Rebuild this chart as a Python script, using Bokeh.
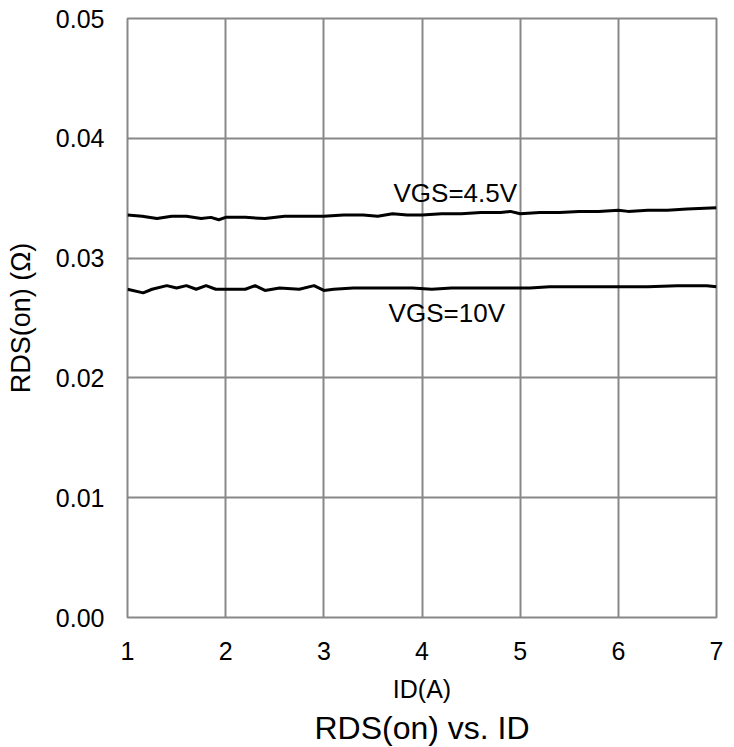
from bokeh.plotting import figure
from bokeh.models import Range1d, FixedTicker, Title, Label
from bokeh.embed import file_html
from bokeh.resources import INLINE

# ---- data ----
id_45 = [1.00, 1.15, 1.30, 1.45, 1.60, 1.75, 1.85, 1.93, 2.00, 2.20, 2.40, 2.60, 2.80, 3.00,
         3.20, 3.40, 3.55, 3.70, 3.85, 4.00, 4.20, 4.40, 4.60, 4.80, 4.90, 5.00, 5.20, 5.40,
         5.60, 5.80, 6.00, 6.10, 6.30, 6.50, 6.70, 7.00]
rds_45 = [0.0336, 0.0335, 0.0333, 0.0335, 0.0335, 0.0333, 0.0334, 0.0332, 0.0334, 0.0334,
          0.0333, 0.0335, 0.0335, 0.0335, 0.0336, 0.0336, 0.0335, 0.0337, 0.0336, 0.0336,
          0.0337, 0.0337, 0.0338, 0.0338, 0.0339, 0.0337, 0.0338, 0.0338, 0.0339, 0.0339,
          0.0340, 0.0339, 0.0340, 0.0340, 0.0341, 0.0342]

id_10 = [1.00, 1.16, 1.25, 1.40, 1.50, 1.60, 1.70, 1.80, 1.90, 2.00, 2.20, 2.30, 2.40, 2.55,
         2.75, 2.90, 3.00, 3.10, 3.30, 3.50, 3.70, 3.90, 4.10, 4.30, 4.50, 4.70, 4.90, 5.10,
         5.30, 5.50, 5.70, 5.90, 6.00, 6.30, 6.60, 6.90, 7.00]
rds_10 = [0.0274, 0.0271, 0.0274, 0.0277, 0.0275, 0.0277, 0.0274, 0.0277, 0.0274, 0.0274,
          0.0274, 0.0277, 0.0273, 0.0275, 0.0274, 0.0277, 0.0273, 0.0274, 0.0275, 0.0275,
          0.0275, 0.0275, 0.0274, 0.0275, 0.0275, 0.0275, 0.0275, 0.0275, 0.0276, 0.0276,
          0.0276, 0.0276, 0.0276, 0.0276, 0.0277, 0.0277, 0.0276]

x_ticks = [1, 2, 3, 4, 5, 6, 7]
y_ticks = [0.0, 0.01, 0.02, 0.03, 0.04, 0.05]
y_tick_labels = ["0.00", "0.01", "0.02", "0.03", "0.04", "0.05"]

curve_labels = ["VGS=4.5V", "VGS=10V"]
label_x = [3.71, 3.66]
label_y = [0.0354, 0.0254]

title_text = "RDS(on) vs. ID"

FONT = "Liberation Sans"
GRID = "#888888"

p = figure(width=726, height=747, output_backend="svg", toolbar_location=None,
           x_range=Range1d(1, 7), y_range=Range1d(0, 0.05),
           min_border_left=127, min_border_right=10, min_border_top=18, min_border_bottom=130)

p.line(id_45, rds_45, line_color="black", line_width=3)
p.line(id_10, rds_10, line_color="black", line_width=3)

for t, lx, ly in zip(curve_labels, label_x, label_y):
    p.add_layout(Label(x=lx, y=ly, text=t, text_font=FONT, text_font_size="26px",
                       text_baseline="middle", text_align="left", text_color="black"))

p.xaxis.ticker = FixedTicker(ticks=x_ticks)
p.yaxis.ticker = FixedTicker(ticks=y_ticks)
p.yaxis.major_label_overrides = {v: s for v, s in zip(y_ticks, y_tick_labels)}

for ax in (p.xaxis[0], p.yaxis[0]):
    ax.axis_line_color = None
    ax.major_tick_line_color = None
    ax.minor_tick_line_color = None
    ax.major_label_text_font = FONT
    ax.major_label_text_font_size = "25px"
    ax.major_label_text_color = "black"
    ax.axis_label_text_font = FONT
    ax.axis_label_text_font_style = "normal"
    ax.axis_label_text_color = "black"

p.xaxis.axis_label = "ID(A)"
p.yaxis.axis_label = "RDS(on) (Ω)"
p.xaxis.axis_label_text_font_size = "25px"
p.yaxis.axis_label_text_font_size = "27px"
p.xaxis.major_label_standoff = 18
p.yaxis.major_label_standoff = 17
p.xaxis.axis_label_standoff = 12
p.yaxis.axis_label_standoff = 17

p.grid.grid_line_color = GRID
p.grid.grid_line_width = 2
p.outline_line_color = GRID
p.outline_line_width = 2

p.add_layout(Title(text=title_text, text_font=FONT, text_font_size="32px",
                   text_font_style="normal", align="center", text_color="black",
                   standoff=4), "below")

open("out.html", "w").write(file_html(p, INLINE))
